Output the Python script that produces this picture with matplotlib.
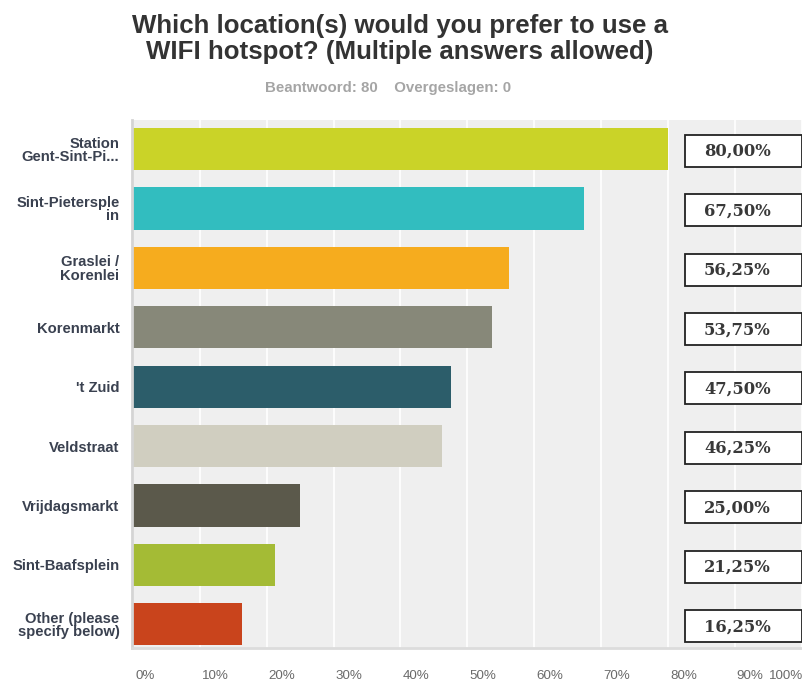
import matplotlib
matplotlib.use("Agg")
import matplotlib.pyplot as plt
from matplotlib.patches import Rectangle

# ---- Survey data ----
LOCATIONS = [
    "Station\nGent-Sint-Pi...",
    "Sint-Pietersple\nin",
    "Graslei /\nKorenlei",
    "Korenmarkt",
    "'t Zuid",
    "Veldstraat",
    "Vrijdagsmarkt",
    "Sint-Baafsplein",
    "Other (please\nspecify below)",
]
SHARE = [80.00, 67.50, 56.25, 53.75, 47.50, 46.25, 25.00, 21.25, 16.25]
COLORS = ["#cad328", "#32bdbf", "#f6ac1e", "#878879", "#2c5d6a",
          "#d0cec0", "#5b594b", "#a4bb35", "#c9441c"]
TICKS = [0, 10, 20, 30, 40, 50, 60, 70, 80, 90, 100]

TITLE = "Which location(s) would you prefer to use a\nWIFI hotspot? (Multiple answers allowed)"
SUBTITLE = "Beantwoord: 80    Overgeslagen: 0"

plt.rcParams["font.family"] = ["Liberation Sans", "DejaVu Sans"]

fig = plt.figure(figsize=(8.03, 6.84), dpi=100)
ax = fig.add_axes([132 / 803, 1 - 648 / 684, 671 / 803, 528 / 684])
ax.set_facecolor("#efefef")

ypos = list(range(len(SHARE)))
ax.set_xlim(-0.15, 100.2)
ax.set_ylim(8.40, -0.49)
ax.set_axisbelow(True)
ax.xaxis.grid(True, color="white", lw=1.2)
ax.barh(ypos, SHARE, height=0.71, color=COLORS, zorder=2)

ax.set_xticks(TICKS)
ax.set_xticklabels([])
ax.tick_params(axis="x", length=0)
ax.set_yticks(ypos)
ax.set_yticklabels(LOCATIONS, fontsize=10.6, fontweight="bold", color="#3a4150",
                   linespacing=0.95)
ax.tick_params(axis="y", length=0, pad=9)

for side in ("top", "right"):
    ax.spines[side].set_visible(False)
ax.spines["left"].set_color("#d4d4d4")
ax.spines["left"].set_linewidth(2)
ax.spines["bottom"].set_color("#dcdcdc")
ax.spines["bottom"].set_linewidth(2)

# percentage labels under the axis, left-aligned to their gridline
for t in TICKS:
    x = t + 0.3
    ha = "left"
    if t == 100:
        x, ha = 100.2, "right"
    ax.text(x, 8.40 + 0.47, f"{t}%", ha=ha, va="center", fontsize=9.6,
            color="#6a6a6a", clip_on=False)

# boxed value labels on the right
for y, v in zip(ypos, SHARE):
    ax.add_patch(Rectangle((82.6, y - 0.24), 17.4, 0.54, transform=ax.transData,
                           facecolor="white", edgecolor="#222222", lw=1.3,
                           zorder=4, clip_on=False))
    ax.text(90.4, y + 0.04, f"{v:.2f}%".replace(".", ","), ha="center",
            va="center", fontsize=11.8, fontweight="bold", color="#383838",
            family=["DejaVu Serif"], zorder=5)

fig.text(0.498, 0.943, TITLE, ha="center", va="center", fontsize=18.6,
         fontweight="bold", color="#333333", linespacing=1.12)
fig.text(0.483, 1 - 88 / 684, SUBTITLE, ha="center", va="center", fontsize=10.8,
         fontweight="bold", color="#a5a5a5")

fig.savefig("out.png", dpi=100)
